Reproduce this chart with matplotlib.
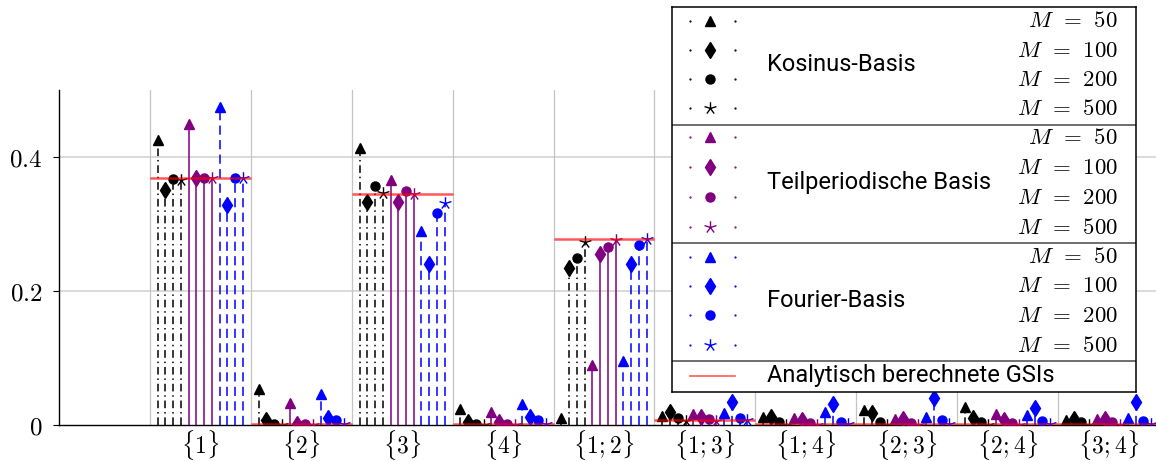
import numpy as np
import matplotlib.pyplot as plt
from matplotlib.path import Path

plt.rcParams['mathtext.fontset'] = 'cm'
plt.rcParams['font.family'] = ['Roboto', 'DejaVu Sans']

# ------------------------------------------------------------
# data: GSI estimates per subset, one list per basis and M
# ------------------------------------------------------------
subsets = [r'$\{1\}$', r'$\{2\}$', r'$\{3\}$', r'$\{4\}$', r'$\{1;2\}$',
           r'$\{1;3\}$', r'$\{1;4\}$', r'$\{2;3\}$', r'$\{2;4\}$', r'$\{3;4\}$']
M_values = [50, 100, 200, 500]

kos_50 = [0.425, 0.053, 0.413, 0.024, 0.010, 0.013, 0.012, 0.022, 0.027, 0.008]
kos_100 = [0.351, 0.007, 0.333, 0.005, 0.234, 0.019, 0.012, 0.018, 0.011, 0.009]
kos_200 = [0.367, 0.002, 0.357, 0.002, 0.250, 0.010, 0.004, 0.004, 0.004, 0.004]
kos_500 = [0.366, 0.000, 0.346, 0.000, 0.273, 0.006, 0.000, 0.000, 0.000, 0.000]

tp_50 = [0.449, 0.033, 0.366, 0.019, 0.089, 0.016, 0.010, 0.009, 0.016, 0.009]
tp_100 = [0.369, 0.002, 0.333, 0.004, 0.255, 0.012, 0.007, 0.009, 0.007, 0.009]
tp_200 = [0.369, 0.002, 0.349, 0.002, 0.266, 0.009, 0.003, 0.003, 0.003, 0.004]
tp_500 = [0.368, 0.000, 0.345, 0.000, 0.276, 0.006, 0.000, 0.000, 0.000, 0.000]

fou_50 = [0.474, 0.046, 0.290, 0.031, 0.096, 0.018, 0.020, 0.012, 0.015, 0.010]
fou_100 = [0.329, 0.010, 0.240, 0.012, 0.241, 0.035, 0.032, 0.040, 0.025, 0.035]
fou_200 = [0.369, 0.007, 0.316, 0.007, 0.268, 0.011, 0.005, 0.008, 0.006, 0.006]
fou_500 = [0.369, 0.002, 0.331, 0.002, 0.277, 0.008, 0.001, 0.002, 0.002, 0.002]

analytic = [0.369, 0.001, 0.345, 0.001, 0.277, 0.0075, 0.001, 0.001, 0.001, 0.001]

bases = [
    ('Kosinus-Basis', 'black', (0, (5, 2.5, 1, 2.5)), [kos_50, kos_100, kos_200, kos_500]),
    ('Teilperiodische Basis', '#800080', '-', [tp_50, tp_100, tp_200, tp_500]),
    ('Fourier-Basis', '#0000ff', (0, (6, 3.5)), [fou_50, fou_100, fou_200, fou_500]),
]

# pgfplots-like "star": five spokes
ang = np.deg2rad(90 + 72 * np.arange(5))
verts, codes = [], []
for a_ in ang:
    verts += [(0, 0), (np.cos(a_), np.sin(a_))]
    codes += [Path.MOVETO, Path.LINETO]
star = Path(verts, codes)

markers = [('^', 7.5), ('d', 8), ('o', 6.5), (star, 9)]

# ------------------------------------------------------------
# plot
# ------------------------------------------------------------
fig = plt.figure(figsize=(11.56, 4.61), dpi=100)
ax = fig.add_axes([59 / 1156, 36 / 461, 1 - 59 / 1156, 335 / 461])

x = np.arange(1, len(subsets) + 1)
step = 0.0767

for b, (name, col, ls, series) in enumerate(bases):
    for m, vals in enumerate(series):
        k = 4 * b + m
        xs = x + (k - 5.5) * step
        ax.vlines(xs, 0, vals, colors=col, linestyles=ls, linewidth=1.1, zorder=3)
        mk, ms = markers[m]
        if mk is star:
            ax.plot(xs, vals, linestyle='none', marker=mk, ms=ms, mfc='none',
                    mec=col, mew=1.0, zorder=4)
        else:
            ax.plot(xs, vals, linestyle='none', marker=mk, ms=ms, color=col,
                    mec=col, zorder=4)

ax.hlines(analytic, x - 0.5, x + 0.5, colors='red', alpha=0.65, linewidth=1.8, zorder=5)

# grid
for yv in [0.2, 0.4]:
    ax.axhline(yv, color='#d3d3d3', linewidth=1.2, zorder=1)
for xv in x - 0.5:
    ax.axvline(xv, color='#c4c4c4', linewidth=0.9, zorder=1)

ax.set_xlim(-0.4, 10.47)
ax.set_ylim(0, 0.5)
ax.set_xticks(x)
ax.set_xticklabels(subsets, fontsize=17)
ax.tick_params(axis='x', length=0, pad=2)
ax.set_yticks([0, 0.2, 0.4])
ax.set_yticklabels([r'$0$', r'$0.2$', r'$0.4$'], fontsize=18)
ax.tick_params(axis='y', length=4, width=0.8, pad=8)

for s in ['top', 'right']:
    ax.spines[s].set_visible(False)
ax.spines['left'].set_linewidth(1.0)
ax.spines['bottom'].set_linewidth(1.0)
ax.annotate('', xy=(0, 1.005), xytext=(0, 0.97), xycoords=ax.get_yaxis_transform(),
            arrowprops=dict(arrowstyle='-|>,head_length=0.5,head_width=0.2',
                            color='black', lw=1.0), annotation_clip=False)
ax.patch.set_alpha(0)

# ------------------------------------------------------------
# legend (hand built, pixel coordinates)
# ------------------------------------------------------------
lg = fig.add_axes([672 / 1156, 69 / 461, 464 / 1156, 385 / 461])
lg.set_xlim(672, 1136)
lg.set_ylim(392, 7)
lg.set_xticks([])
lg.set_yticks([])
for s in lg.spines.values():
    s.set_linewidth(1.1)

row_y = [[20.7, 50, 79, 108], [137, 167, 197, 227], [256.7, 285.7, 315, 345]]
for b, (name, col, ls, series) in enumerate(bases):
    for m, yy in enumerate(row_y[b]):
        mk, ms = markers[m]
        lg.plot([690, 735], [yy, yy], linestyle='none', marker='.', ms=1.2, color=col)
        if mk is star:
            lg.plot(710, yy, marker=mk, ms=ms, mfc='none', mec=col, mew=1.0)
        else:
            lg.plot(710, yy, marker=mk, ms=ms, color=col)
        lg.text(1118, yy, r'$M\;\,=\;\,%d$' % M_values[m], ha='right', va='center',
                fontsize=16.5)
    lg.text(767, np.mean(row_y[b]), name, ha='left', va='center', fontsize=17)

for yy in [125, 243, 361]:
    lg.axhline(yy, color='#555555', linewidth=1.2)

lg.plot([690, 735], [375.7, 375.7], color='red', alpha=0.65, linewidth=1.2)
lg.text(767, 375.7, 'Analytisch berechnete GSIs', ha='left', va='center', fontsize=17)

plt.savefig('out.png', dpi=100)
